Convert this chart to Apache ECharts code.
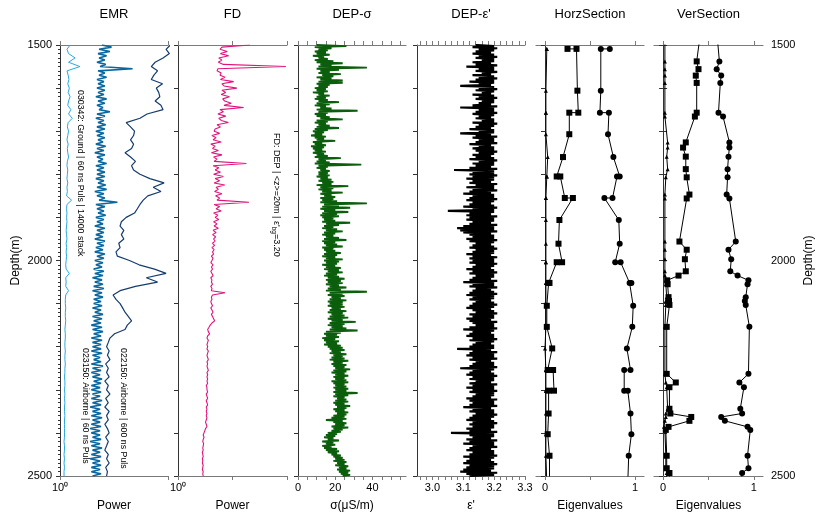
<!DOCTYPE html>
<html><head><meta charset="utf-8">
<script src="https://cdn.jsdelivr.net/npm/echarts@6/dist/echarts.min.js"></script>
<style>html,body{margin:0;padding:0;background:#fff}#c{width:818px;height:517px}</style>
</head><body><div id="c"></div>
<script>
// ---------- labels ----------
const panelTitles = ['EMR', 'FD', 'DEP-σ', "DEP-ε'", 'HorzSection', 'VerSection'];
const axisNames = ['Power', 'Power', 'σ(μS/m)', "ε'", 'Eigenvalues', 'Eigenvalues'];
const depthLabels = [1500, 2000, 2500];
const sigmaTicks = [0, 5, 10, 15, 20, 25, 30, 35, 40, 45, 50, 55];
const sigmaLabels = [0, 20, 40];
const epsTicks = [2.96, 2.98, 3.00, 3.02, 3.04, 3.06, 3.08, 3.10, 3.12, 3.14, 3.16, 3.18, 3.20, 3.22, 3.24, 3.26, 3.28, 3.30];
const epsLabels = [3.0, 3.1, 3.2, 3.3];
const eigTicks = [0, 0.5, 1];
const eigLabels = [0, 1];
const emrNotes = ['030342: Ground | 60 ns Puls | 14000 stack', '023150: Airborne | 60 ns Puls', '022150: Airborne | 600 ns Puls'];

// ---------- EMR (power, log) : samples every 10 m from 1500 m ----------
const emrLight = [
1.24,1.16,1.20,1.38,1.20,1.53,1.16,1.19,1.21,1.18,
1.22,1.19,1.24,1.20,1.18,1.26,1.20,1.30,1.19,1.17,
1.20,1.18,1.16,1.19,1.17,1.18,1.20,1.17,1.16,1.18,
1.17,1.16,1.18,1.16,1.17,1.15,1.28,1.16,1.15,1.16,
1.15,1.16,1.15,1.14,1.15,1.16,1.14,1.15,1.14,1.15,
1.14,1.13,1.14,1.22,1.13,1.14,1.13,1.20,1.13,1.12,
1.12,1.13,1.12,1.12,1.13,1.12,1.11,1.12,1.12,1.11,
1.11,1.12,1.11,1.11,1.12,1.11,1.11,1.10,1.11,1.11,
1.10,1.11,1.10,1.11,1.10,1.10,1.11,1.10,1.10,1.10,
1.10,1.10,1.09,1.10,1.10,1.09,1.10,1.09,1.10,1.09,
1.09];
// dense trace: low excursions (at each 10 m) and high excursions (5 m later)
const emrMidLow = [
2.45,2.30,2.25,2.30,2.20,2.35,2.25,2.30,2.20,2.25,
2.20,2.25,2.15,2.25,2.20,2.30,2.20,2.15,2.25,2.20,
2.15,2.20,2.25,2.15,2.20,2.10,2.20,2.25,2.15,2.20,
2.20,2.15,2.25,2.20,2.10,2.20,2.30,2.15,2.20,2.25,
2.15,2.20,2.10,2.20,2.15,2.10,2.20,2.15,2.10,2.20,
2.10,2.15,2.05,2.10,2.00,2.10,2.05,2.00,2.10,2.05,
2.05,2.00,2.10,2.00,2.05,1.95,2.00,2.05,1.95,2.00,
2.00,1.95,2.00,2.05,1.95,2.00,1.95,2.00,2.05,1.95,
1.95,2.00,1.95,2.00,1.90,2.00,1.95,2.00,1.95,1.90,
1.95,2.00,1.90,1.95,2.00,1.95,1.90,2.00,1.95,1.95,
2.00];
const emrMidHigh = [
3.00,2.90,2.70,2.60,2.65,4.70,2.60,2.70,2.55,2.60,
2.60,2.55,2.70,2.60,2.50,2.90,2.60,2.55,2.65,2.60,
2.55,2.60,2.50,2.65,2.55,2.60,2.50,2.70,2.55,2.60,
2.60,2.55,2.65,2.70,2.55,2.60,3.40,2.60,2.55,2.65,
2.55,2.50,2.60,2.55,2.50,2.60,2.55,2.50,2.60,2.55,
2.50,2.45,2.55,2.50,2.45,2.50,2.55,2.45,2.50,2.40,
2.45,2.40,2.50,2.45,2.40,2.45,2.50,2.40,2.45,2.40,
2.40,2.45,2.35,2.40,2.50,2.40,2.35,2.45,2.40,2.35,
2.40,2.35,2.45,2.40,2.35,2.40,2.45,2.35,2.40,2.35,
2.35,2.40,2.35,2.45,2.35,2.40,2.35,2.40,2.35,2.40];
const emrNavy = [
10.5,9.6,10.3,9.0,7.6,7.0,8.0,7.4,7.0,8.9,
7.8,8.2,8.4,7.6,8.6,9.0,6.4,5.5,4.1,4.5,
4.9,4.8,4.5,4.8,4.6,4.0,4.5,5.0,4.6,4.8,
5.5,6.8,9.2,7.3,8.6,6.5,5.9,5.5,5.2,4.9,
4.1,3.7,3.6,3.9,3.7,3.9,3.5,3.6,3.3,3.4,
4.4,5.4,7.5,9.6,6.3,8.0,5.0,3.6,3.1,3.3,
3.6,3.8,4.0,4.3,4.6,4.2,4.0,3.2,2.9,2.8,
2.7,2.85,2.75,2.9,2.65,2.8,2.7,2.85,2.6,2.8,
2.7,2.9,2.65,2.8,2.6,2.85,2.7,2.8,2.6,2.75,
2.85,2.65,2.8,2.7,2.6,2.8,2.7,2.85,2.65,2.75,
2.7];

// ---------- FD (power, log) : every 5 m ----------
const fdPower = [
21,6.4,5.9,8.0,6.0,8.5,5.6,6.4,5.5,6.8,95,5.4,5.2,6.2,5.9,7.3,6.0,10.5,6.4,7.0,
12,6.4,7.5,6.2,8.8,6.6,7.2,9.5,7.0,16,5.9,6.8,5.4,7.5,5.6,6.2,8.4,5.2,6.0,4.8,
4.6,5.8,4.2,5.0,4.4,6.2,4.0,4.8,4.3,5.5,4.1,6.4,4.5,5.2,4.6,18,4.4,5.6,4.8,6.0,
4.5,6.8,4.8,5.8,4.6,7.2,5.0,5.5,4.7,6.4,4.9,5.8,5.2,20,4.6,5.8,5.0,6.2,4.5,5.4,
4.8,5.6,4.5,5.2,4.6,5.5,4.4,5.0,4.3,4.9,4.5,4.8,4.3,4.7,4.2,4.6,4.3,4.5,4.1,4.4,
4.2,4.0,4.4,4.1,4.3,4.0,4.2,4.4,4.0,4.2,4.1,4.3,4.0,4.2,4.1,7.3,4.3,4.1,4.2,4.0,
4.1,4.3,4.0,4.2,4.4,4.1,4.3,4.5,4.7,4.2,3.9,3.7,3.5,3.6,3.8,3.5,3.4,3.6,3.5,3.4,
3.5,3.4,3.6,3.5,3.4,3.5,3.6,3.4,3.5,3.4,3.5,3.6,3.4,3.5,3.4,3.5,3.4,3.5,3.3,3.4,
3.4,3.5,3.3,3.4,3.5,3.3,3.4,3.5,3.3,3.4,3.3,3.4,3.3,3.4,3.3,3.2,3.3,3.4,3.2,3.1,
3.0,2.9,3.0,2.9,2.85,2.95,2.9,2.85,2.9,2.8,2.85,2.9,2.8,2.85,2.8,2.9,2.85,2.8,2.9,2.85,
2.9];

// ---------- DEP sigma (µS/m): dense trace, low at each 5 m, high 2.5 m later ----------
const sigmaLow = [
10,9,11,9,10,8,11,9,10,12,11,10,12,11,13,10,12,11,10,11,
9,10,8,11,10,9,11,10,9,12,10,11,9,10,12,10,9,11,10,9,
8,9,7,9,10,8,9,7,8,9,8,10,9,11,10,9,11,10,12,11,
11,10,12,11,13,10,12,11,13,12,14,12,13,12,14,13,12,14,13,12,
13,14,13,15,14,13,15,14,13,15,14,13,14,15,13,14,15,14,13,15,
14,15,13,15,14,16,15,14,16,15,16,15,17,16,15,17,16,18,17,16,
17,16,18,17,16,18,17,16,18,17,16,18,17,15,14,15,13,14,15,14,
16,17,18,17,19,18,17,19,18,19,20,19,18,20,19,20,18,19,20,19,
20,19,20,19,21,20,19,20,21,19,20,21,19,18,15,19,20,18,19,18,
16,15,14,16,13,15,13,14,15,16,18,19,20,19,21,20,22,21,22,23,
24];
const sigmaHigh = [
26,18,16,15,17,14,16,19,24,18,37,22,17,23,19,18,24,24,17,16,
15,16,14,17,15,16,22,17,15,18,32,16,15,17,24,16,15,17,22,16,
14,13,15,14,20,13,15,14,13,15,14,16,23,15,17,34,16,15,17,16,
17,16,18,19,18,27,19,18,24,18,20,19,21,37,22,28,20,27,21,22,
19,20,28,22,19,21,24,20,19,22,26,20,21,24,19,20,23,21,20,24,
22,21,20,23,22,24,21,22,25,23,24,22,26,23,37,24,25,23,26,24,
24,25,23,26,24,25,27,24,31,25,24,26,32,23,21,22,20,22,21,23,
24,25,23,26,24,25,27,24,26,25,28,26,25,27,25,26,27,25,26,27,
26,32,27,25,26,27,25,28,26,25,27,26,25,26,24,26,25,27,24,23,
21,20,19,22,19,20,18,21,22,21,23,24,25,26,25,27,26,28,27,28];

// ---------- DEP epsilon' : dense trace, low at each 5 m, high 2.5 m later ----------
const epsLow = [
3.14,3.13,3.15,3.14,3.13,3.15,3.14,3.16,3.13,3.14,3.11,3.15,3.14,3.16,3.13,3.15,3.14,3.12,3.15,3.09,
3.15,3.14,3.16,3.13,3.15,3.14,3.16,3.15,3.13,3.09,3.15,3.14,3.13,3.15,3.14,3.16,3.13,3.15,3.14,3.12,
3.15,3.09,3.14,3.13,3.15,3.14,3.12,3.15,3.13,3.14,3.15,3.13,3.14,3.12,3.15,3.13,3.14,3.12,3.07,3.13,
3.12,3.13,3.11,3.13,3.12,3.14,3.11,3.13,3.12,3.10,3.13,3.12,3.11,3.13,3.12,3.10,3.13,3.05,3.12,3.11,
3.12,3.11,3.13,3.12,3.10,3.08,3.09,3.10,3.12,3.13,3.11,3.12,3.14,3.13,3.12,3.14,3.13,3.11,3.13,3.12,
3.13,3.12,3.14,3.13,3.11,3.13,3.12,3.14,3.13,3.12,3.10,3.13,3.12,3.14,3.13,3.12,3.11,3.13,3.12,3.14,
3.13,3.12,3.11,3.13,3.14,3.12,3.13,3.11,3.12,3.13,3.14,3.12,3.10,3.13,3.12,3.11,3.13,3.12,3.14,3.13,
3.12,3.08,3.13,3.12,3.11,3.13,3.12,3.14,3.13,3.12,3.09,3.13,3.12,3.11,3.13,3.12,3.14,3.12,3.13,3.11,
3.13,3.12,3.14,3.13,3.11,3.12,3.13,3.12,3.10,3.13,3.12,3.14,3.13,3.12,3.11,3.13,3.12,3.13,3.11,3.12,
3.06,3.12,3.13,3.11,3.12,3.10,3.13,3.12,3.11,3.13,3.12,3.10,3.12,3.11,3.10,3.12,3.11,3.10,3.09,3.11,
3.12];
const epsHigh = [
3.20,3.21,3.20,3.19,3.20,3.21,3.20,3.20,3.19,3.21,3.20,3.20,3.21,3.19,3.20,3.21,3.20,3.20,3.19,3.20,
3.21,3.20,3.19,3.20,3.21,3.20,3.20,3.19,3.21,3.20,3.20,3.21,3.20,3.19,3.20,3.20,3.21,3.20,3.19,3.20,
3.20,3.19,3.21,3.20,3.20,3.21,3.19,3.20,3.20,3.21,3.20,3.19,3.20,3.21,3.20,3.20,3.19,3.21,3.20,3.20,
3.21,3.20,3.20,3.19,3.21,3.20,3.20,3.21,3.19,3.20,3.20,3.21,3.20,3.19,3.20,3.21,3.20,3.20,3.19,3.21,
3.20,3.20,3.19,3.21,3.20,3.20,3.21,3.19,3.20,3.20,3.21,3.20,3.19,3.20,3.21,3.20,3.20,3.19,3.21,3.20,
3.20,3.21,3.20,3.19,3.20,3.21,3.20,3.20,3.19,3.21,3.20,3.20,3.21,3.19,3.20,3.21,3.20,3.20,3.19,3.20,
3.21,3.20,3.19,3.20,3.21,3.20,3.20,3.19,3.21,3.20,3.20,3.21,3.20,3.19,3.20,3.20,3.21,3.20,3.19,3.20,
3.20,3.19,3.21,3.20,3.20,3.21,3.19,3.20,3.20,3.21,3.20,3.19,3.20,3.21,3.20,3.20,3.19,3.21,3.20,3.20,
3.21,3.20,3.20,3.19,3.21,3.20,3.20,3.21,3.19,3.20,3.20,3.21,3.20,3.19,3.20,3.21,3.20,3.20,3.19,3.21,
3.20,3.20,3.19,3.21,3.20,3.20,3.21,3.19,3.20,3.20,3.21,3.20,3.19,3.20,3.21,3.20,3.20,3.19,3.21,3.20];

// ---------- Eigenvalues ----------
const horzDepth = [1509,1509,1606,1657,1657,1707,1760,1805,1805,1855,1855,1906,1961,2004,2004,2052,2052,2105,2154,2204,2254,2254,2302,2302,2355,2403,2453,2515];
const horzSmall = [0.02,0.02,0.01,0.01,0.01,0.01,0.03,0.02,0.02,0.01,0.01,0.01,0.01,0.01,0.01,0.01,0.01,0.01,0.01,0.00,0.01,0.01,0.01,0.01,0.01,0.01,0.01,0.02];
const horzMid = [0.25,0.35,0.36,0.37,0.27,0.27,0.20,0.13,0.17,0.22,0.31,0.16,0.15,0.19,0.13,0.04,0.05,0.02,0.02,0.08,0.03,0.09,0.10,0.04,0.04,0.03,0.05,0.05];
const horzLarge = [0.72,0.62,0.62,0.61,0.71,0.70,0.76,0.83,0.80,0.75,0.66,0.82,0.83,0.78,0.84,0.94,0.96,0.98,0.97,0.91,0.95,0.88,0.88,0.92,0.95,0.96,0.93,0.92];
const verDepth = [1490,1538,1556,1571,1588,1657,1666,1726,1738,1759,1788,1807,1847,1856,1956,1975,1997,2025,2035,2046,2055,2085,2094,2103,2154,2263,2283,2294,2344,2355,2363,2372,2386,2393,2453,2482,2493,2515];
const verSmall = [0.02,0.02,0.02,0.02,0.02,0.02,0.02,0.05,0.05,0.04,0.05,0.03,0.02,0.02,0.02,0.02,0.02,0.02,0.02,0.03,0.03,0.04,0.03,0.03,0.02,0.02,0.03,0.04,0.05,0.03,0.03,0.02,0.01,0.02,0.03,0.03,0.04,0.04];
const verMid = [0.40,0.37,0.39,0.36,0.37,0.37,0.35,0.25,0.22,0.25,0.25,0.26,0.29,0.26,0.18,0.26,0.24,0.25,0.17,0.045,0.05,0.06,0.065,0.07,0.04,0.04,0.14,0.07,0.07,0.08,0.31,0.29,0.06,0.03,0.04,0.04,0.07,0.07];
const verLarge = [0.60,0.62,0.59,0.64,0.63,0.61,0.66,0.73,0.73,0.72,0.71,0.71,0.70,0.73,0.80,0.72,0.75,0.74,0.82,0.94,0.93,0.91,0.90,0.91,0.95,0.94,0.84,0.89,0.85,0.87,0.64,0.68,0.93,0.96,0.93,0.94,0.87,0.86];

// ---------- helpers ----------
function trace(vals, start, step) { return vals.map((v, i) => [v, start + i * step]); }
function zig(low, high, start, step) {
  const d = [];
  for (let i = 0; i < high.length; i++) {
    d.push([low[i], start + i * step]);
    d.push([high[i], start + i * step + step / 2]);
  }
  if (low.length > high.length) d.push([low[high.length], start + high.length * step]);
  return d;
}
function pairs(vals, depths) { return vals.map((v, i) => [v, depths[i]]); }

const FONT = 'Liberation Sans, Arial, Helvetica, sans-serif';
const grids = [
  { left: 60, top: 45, width: 108, height: 435 },
  { left: 178, top: 45, width: 109, height: 435 },
  { left: 298, top: 45, width: 108, height: 435 },
  { left: 417, top: 45, width: 108, height: 435 },
  { left: 536, top: 45, width: 108, height: 435 },
  { left: 654, top: 45, width: 109, height: 435 }
];
const hColor = '#7a7a7a', vColor = '#333';

const xBase = [
  { type: 'log', min: 1, max: 10, label: { formatter: v => (Math.abs(v - 1) < 1e-6 ? '10⁰' : '') } },
  { type: 'log', min: 1, max: 100, label: { formatter: v => (Math.abs(v - 1) < 1e-6 ? '10⁰' : '') } },
  { type: 'value', min: 0, max: 58, ticks: sigmaTicks, labels: sigmaLabels, label: { formatter: v => String(v) } },
  { type: 'value', min: 2.95, max: 3.3, ticks: epsTicks, labels: epsLabels, label: { formatter: v => v.toFixed(1) } },
  { type: 'value', min: -0.1, max: 1.1, ticks: eigTicks, labels: eigLabels, label: { formatter: v => String(v) } },
  { type: 'value', min: -0.1, max: 1.1, ticks: eigTicks, labels: eigLabels, label: { formatter: v => String(v) } }
];

const xAxis = [];
xBase.forEach((b, i) => {
  ['bottom', 'top'].forEach(pos => {
    const ax = {
      type: b.type, gridIndex: i, position: pos, min: b.min, max: b.max,
      axisLine: { show: true, lineStyle: { color: hColor, width: 1.2 } },
      axisTick: { show: true, inside: false, length: 4, lineStyle: { color: hColor } },
      splitLine: { show: false },
      axisLabel: { show: pos === 'bottom', formatter: b.label.formatter, color: '#000', fontSize: 11, fontFamily: FONT, margin: 6, showMinLabel: true, showMaxLabel: true }
    };
    if (b.type === 'log') ax.logBase = 10;
    if (b.ticks) ax.axisTick.customValues = b.ticks;
    if (b.labels) ax.axisLabel.customValues = b.labels;
    if (pos === 'bottom') {
      ax.name = axisNames[i]; ax.nameLocation = 'middle'; ax.nameGap = 24;
      ax.nameTextStyle = { color: '#000', fontSize: 12, fontFamily: FONT };
    }
    xAxis.push(ax);
  });
});

const depthFmt = v => (depthLabels.indexOf(v) >= 0 ? String(v) : '');
const yAxis = grids.map((g, i) => {
  const ax = {
    type: 'value', gridIndex: i, inverse: true, min: 1500, max: 2500, interval: 100, position: 'left',
    axisLine: { show: true, lineStyle: { color: vColor, width: 1 } },
    axisTick: { show: true, length: 4, lineStyle: { color: vColor } },
    axisLabel: { show: false }, splitLine: { show: false }
  };
  if (i === 0) {
    ax.axisLabel = { show: true, formatter: depthFmt, color: '#000', fontSize: 11, fontFamily: FONT };
    ax.minorTick = { show: true, splitNumber: 10, length: 2, lineStyle: { color: vColor } };
    ax.name = 'Depth(m)'; ax.nameLocation = 'middle'; ax.nameGap = 38; ax.nameRotate = 90;
    ax.nameTextStyle = { color: '#000', fontSize: 12, fontFamily: FONT };
  }
  return ax;
});
yAxis.push({
  type: 'value', gridIndex: 5, inverse: true, min: 1500, max: 2500, interval: 100, position: 'right',
  axisLine: { show: true, lineStyle: { color: vColor, width: 1 } },
  axisTick: { show: true, length: 4, lineStyle: { color: vColor } },
  axisLabel: { show: true, formatter: depthFmt, color: '#000', fontSize: 11, fontFamily: FONT },
  splitLine: { show: false },
  name: 'Depth(m)', nameLocation: 'middle', nameGap: 40, nameRotate: 90,
  nameTextStyle: { color: '#000', fontSize: 12, fontFamily: FONT }
});

function lineS(p, data, color, width) {
  return { type: 'line', xAxisIndex: 2 * p, yAxisIndex: p, data, symbol: 'none', clip: true,
    lineStyle: { color, width, join: 'bevel' }, silent: true, animation: false };
}
function eigS(p, data, symbol, size) {
  return { type: 'line', xAxisIndex: 2 * p, yAxisIndex: p, data, symbol, symbolSize: size, clip: true,
    lineStyle: { color: '#000', width: 1 }, itemStyle: { color: '#000' }, silent: true, animation: false };
}

const series = [
  lineS(0, trace(emrLight, 1500, 10), '#2aa8e0', 1),
  lineS(0, zig(emrMidLow, emrMidHigh, 1500, 10), '#0b679f', 1.6),
  lineS(0, trace(emrNavy, 1500, 10), '#143c6e', 1.2),
  lineS(1, trace(fdPower, 1500, 5), '#e0157c', 1.1),
  lineS(2, zig(sigmaLow, sigmaHigh, 1500, 5), '#0b5e0b', 1.9),
  lineS(3, zig(epsLow, epsHigh, 1500, 5), '#000000', 2.2),
  eigS(4, pairs(horzSmall, horzDepth), 'triangle', 4),
  eigS(4, pairs(horzMid, horzDepth), 'rect', 6),
  eigS(4, pairs(horzLarge, horzDepth), 'circle', 6),
  eigS(5, pairs(verSmall, verDepth), 'triangle', 4),
  eigS(5, pairs(verMid, verDepth), 'rect', 6),
  eigS(5, pairs(verLarge, verDepth), 'circle', 6)
];

const graphic = [];
grids.forEach((g, i) => {
  graphic.push({ type: 'text', x: g.left + g.width / 2, y: 14, silent: true,
    style: { text: panelTitles[i], fill: '#000', fontSize: 13, fontFamily: FONT, align: 'center', verticalAlign: 'middle', textAlign: 'center', textVerticalAlign: 'middle' } });
});
const noteSpots = [[80, 90], [85, 348], [123, 348]];
emrNotes.forEach((t, i) => {
  graphic.push({ type: 'text', x: noteSpots[i][0], y: noteSpots[i][1], rotation: -Math.PI / 2, silent: true,
    style: { text: t, fill: '#000', fontSize: 8.8, fontFamily: FONT, align: 'left', verticalAlign: 'middle', textAlign: 'left', textVerticalAlign: 'middle' } });
});
graphic.push({ type: 'text', x: 276, y: 133, rotation: -Math.PI / 2, silent: true,
  style: { text: "{n|FD: DEP | <z>=20m | ε'}{s|bg}{n|=3.20}", fill: '#000', fontFamily: FONT, fontSize: 9,
    align: 'left', verticalAlign: 'middle', textAlign: 'left', textVerticalAlign: 'middle',
    rich: { n: { fontSize: 9, fontFamily: FONT, fill: '#000', color: '#000' }, s: { fontSize: 6.5, fontFamily: FONT, fill: '#000', color: '#000', padding: [5, 0, 0, 0] } } } });

const chart = echarts.init(document.getElementById('c'), null, { renderer: 'canvas' });
chart.setOption({
  animation: false,
  backgroundColor: '#fff',
  textStyle: { fontFamily: FONT },
  grid: grids,
  xAxis, yAxis, series, graphic
});
</script></body></html>
